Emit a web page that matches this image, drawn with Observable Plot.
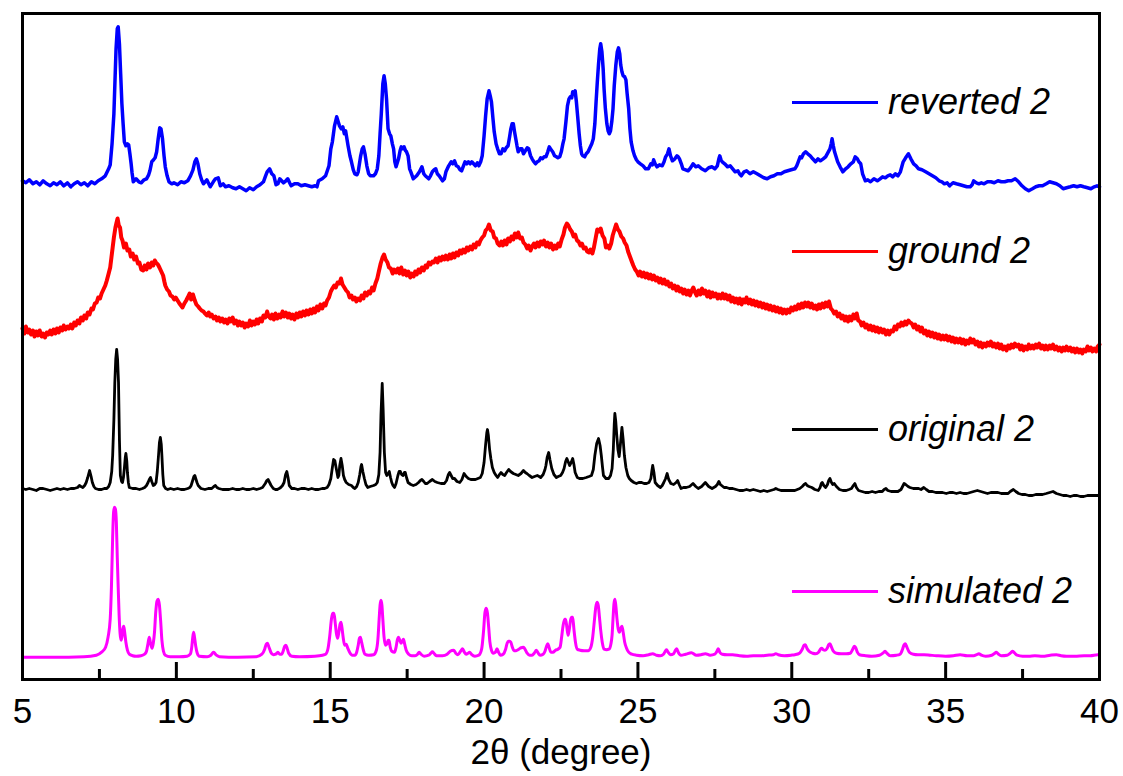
<!DOCTYPE html>
<html><head><meta charset="utf-8">
<script src="https://cdn.jsdelivr.net/npm/d3@7"></script>
<script src="https://cdn.jsdelivr.net/npm/@observablehq/plot@0.6"></script>
<style>
body{margin:0;background:#fff;}
#wrap{position:relative;width:1123px;height:776px;font-family:"Liberation Sans",Arial,sans-serif;}
.leg{position:absolute;left:792px;display:flex;align-items:center;height:40px;margin-top:-20px;}
.leg .sw{width:86px;height:3px;}
.leg span{margin-left:10px;font-style:italic;font-size:36px;color:#000;line-height:40px;white-space:nowrap;}
</style></head><body><div id="wrap"></div>
<script>
const seriesNames = ["reverted 2", "ground 2", "original 2", "simulated 2"];
const seriesColors = ["#0000ff", "#ff0000", "#000000", "#ff00ff"];
const seriesOffsets = [495.7, 344, 190, 22.3];
const seriesWidths = [3.5, 4, 2.8, 3];
const xMajorTicks = [5, 10, 15, 20, 25, 30, 35, 40];
const xMinorTicks = [7.5, 12.5, 17.5, 22.5, 27.5, 32.5, 37.5];
const xLabel = "2θ (degree)";

const reverted = [[5.00,3],[5.11,1],[5.22,4],[5.34,0],[5.45,2],[5.56,-1],[5.67,3],[5.79,0],[5.90,-2],[6.01,1],[6.12,-1],[6.23,2],[6.34,-2],[6.46,1],[6.57,-3],[6.68,0],[6.79,2],[6.90,-1],[7.01,1],[7.12,-2],[7.24,2],[7.35,0],[7.46,3],[7.57,5],[7.69,8],[7.80,15],[7.85,19],[7.91,40],[7.97,70],[8.04,135],[8.08,155],[8.11,157],[8.15,140],[8.19,110],[8.23,80],[8.27,60],[8.31,42],[8.36,38],[8.41,40],[8.45,39],[8.49,30],[8.53,20],[8.56,11],[8.60,2],[8.69,5],[8.78,2],[8.86,1],[8.95,4],[9.03,5],[9.10,9],[9.14,13],[9.20,22],[9.26,24],[9.31,26],[9.36,32],[9.41,45],[9.46,56],[9.50,55],[9.55,45],[9.60,28],[9.64,17],[9.70,8],[9.76,2],[9.85,0],[9.92,1],[10.04,-1],[10.15,2],[10.26,1],[10.37,3],[10.46,8],[10.54,14],[10.60,22],[10.65,25],[10.70,20],[10.76,10],[10.82,4],[10.88,0],[10.99,4],[11.10,-3],[11.20,2],[11.27,5],[11.36,6],[11.43,-2],[11.52,0],[11.60,-3],[11.71,-2],[11.83,-4],[11.94,-5],[12.05,-3],[12.16,-5],[12.27,-7],[12.38,-4],[12.50,-6],[12.61,-3],[12.72,-1],[12.83,2],[12.90,8],[12.95,12],[13.03,15],[13.10,10],[13.17,8],[13.24,-1],[13.30,0],[13.36,5],[13.42,3],[13.48,1],[13.56,3],[13.62,5],[13.68,1],[13.73,-2],[13.84,0],[13.95,0],[14.06,-2],[14.18,-1],[14.29,-2],[14.40,-3],[14.51,-2],[14.57,-3],[14.62,3],[14.74,5],[14.85,8],[14.96,18],[15.02,35],[15.07,42],[15.14,58],[15.21,67],[15.26,62],[15.30,58],[15.36,55],[15.41,57],[15.46,50],[15.50,53],[15.58,38],[15.64,28],[15.69,22],[15.75,14],[15.80,10],[15.87,9],[15.91,12],[15.95,20],[15.99,28],[16.04,35],[16.08,37],[16.13,30],[16.19,18],[16.25,10],[16.30,8],[16.41,8],[16.47,10],[16.53,15],[16.58,28],[16.62,50],[16.66,70],[16.71,100],[16.75,108],[16.79,100],[16.83,85],[16.88,55],[16.93,50],[16.97,48],[17.02,40],[17.06,35],[17.10,22],[17.14,17],[17.22,25],[17.27,33],[17.31,37],[17.36,35],[17.40,37],[17.45,33],[17.48,32],[17.53,28],[17.58,15],[17.62,12],[17.70,5],[17.81,8],[17.90,12],[17.98,17],[18.04,10],[18.09,8],[18.20,5],[18.26,8],[18.32,12],[18.38,14],[18.43,15],[18.48,10],[18.54,8],[18.65,3],[18.71,5],[18.76,12],[18.85,18],[18.93,22],[18.98,20],[19.04,23],[19.10,18],[19.16,17],[19.22,14],[19.27,13],[19.33,18],[19.38,22],[19.44,20],[19.49,22],[19.55,20],[19.60,22],[19.66,20],[19.72,18],[19.78,21],[19.83,18],[19.89,22],[19.94,28],[20.00,48],[20.05,68],[20.10,85],[20.16,93],[20.20,88],[20.24,82],[20.29,65],[20.33,52],[20.39,40],[20.44,35],[20.50,30],[20.55,30],[20.61,35],[20.67,33],[20.72,36],[20.78,38],[20.83,47],[20.87,55],[20.91,60],[20.95,60],[20.99,52],[21.03,45],[21.07,38],[21.11,32],[21.17,35],[21.23,35],[21.28,30],[21.34,33],[21.40,36],[21.45,35],[21.51,28],[21.56,25],[21.62,22],[21.67,20],[21.73,22],[21.79,23],[21.84,26],[21.90,25],[21.95,27],[22.01,27],[22.07,32],[22.12,37],[22.18,34],[22.23,32],[22.29,28],[22.35,27],[22.40,26],[22.46,27],[22.51,32],[22.56,40],[22.60,45],[22.66,62],[22.71,78],[22.76,85],[22.80,87],[22.85,86],[22.88,92],[22.92,90],[22.96,93],[23.00,82],[23.04,68],[23.09,50],[23.13,38],[23.17,30],[23.21,28],[23.27,27],[23.32,30],[23.38,32],[23.44,36],[23.50,40],[23.55,45],[23.60,60],[23.64,82],[23.68,102],[23.72,120],[23.76,135],[23.79,140],[23.83,132],[23.87,115],[23.90,95],[23.94,76],[23.99,60],[24.03,53],[24.07,50],[24.11,53],[24.15,62],[24.19,75],[24.23,98],[24.28,118],[24.33,132],[24.37,136],[24.41,130],[24.44,119],[24.48,112],[24.52,108],[24.57,107],[24.61,104],[24.65,90],[24.70,75],[24.74,55],[24.78,42],[24.84,33],[24.89,28],[24.95,24],[25.00,22],[25.08,20],[25.17,18],[25.25,15],[25.34,15],[25.42,20],[25.47,19],[25.51,24],[25.56,20],[25.62,17],[25.70,19],[25.79,18],[25.85,22],[25.90,27],[25.96,30],[26.01,35],[26.06,28],[26.12,23],[26.20,25],[26.27,28],[26.31,27],[26.35,25],[26.41,20],[26.46,15],[26.55,14],[26.63,13],[26.71,16],[26.79,20],[26.88,17],[26.96,18],[27.07,15],[27.19,13],[27.30,16],[27.41,17],[27.50,15],[27.58,18],[27.63,25],[27.66,28],[27.70,24],[27.74,22],[27.82,20],[27.91,17],[28.00,18],[28.08,15],[28.16,12],[28.25,13],[28.30,10],[28.36,8],[28.45,12],[28.53,13],[28.64,10],[28.75,12],[28.87,10],[28.98,8],[29.09,6],[29.20,5],[29.31,7],[29.42,8],[29.53,10],[29.65,10],[29.76,12],[29.87,13],[29.98,14],[30.10,15],[30.16,18],[30.21,22],[30.27,27],[30.32,26],[30.38,30],[30.45,32],[30.52,30],[30.60,28],[30.68,25],[30.77,22],[30.85,25],[30.93,23],[31.02,25],[31.10,27],[31.17,31],[31.24,35],[31.28,40],[31.31,45],[31.35,38],[31.39,32],[31.44,27],[31.49,22],[31.57,17],[31.66,12],[31.75,15],[31.83,17],[31.92,20],[32.00,22],[32.06,27],[32.13,25],[32.18,22],[32.24,20],[32.30,10],[32.39,3],[32.47,4],[32.56,2],[32.67,5],[32.78,3],[32.87,5],[32.95,7],[33.04,6],[33.12,8],[33.20,9],[33.28,7],[33.37,10],[33.45,8],[33.53,12],[33.62,22],[33.70,26],[33.79,30],[33.87,25],[33.96,20],[34.04,18],[34.12,15],[34.23,14],[34.35,12],[34.46,10],[34.57,8],[34.68,6],[34.79,3],[34.88,2],[34.96,0],[35.05,1],[35.13,-2],[35.24,1],[35.35,0],[35.47,-1],[35.58,-2],[35.69,-3],[35.80,-3],[35.86,-1],[35.91,3],[36.00,1],[36.08,0],[36.16,1],[36.25,0],[36.36,2],[36.47,2],[36.58,1],[36.70,3],[36.81,2],[36.92,2],[37.03,3],[37.14,3],[37.20,4],[37.26,5],[37.37,2],[37.48,-2],[37.59,-5],[37.70,-7],[37.82,-5],[37.93,-3],[38.04,-2],[38.15,-2],[38.27,0],[38.38,2],[38.49,1],[38.60,0],[38.71,-2],[38.82,-5],[38.93,-4],[39.05,-3],[39.16,-2],[39.27,-3],[39.38,-2],[39.49,-3],[39.61,-4],[39.72,-5],[39.83,-3],[39.92,-2],[40.00,-3]];

const ground = [[5.00,7],[5.06,2],[5.11,9],[5.17,3],[5.22,6],[5.28,1],[5.34,5],[5.39,-1],[5.45,4],[5.50,0],[5.56,5],[5.62,-1],[5.67,2],[5.73,-2],[5.79,3],[5.84,1],[5.90,5],[5.95,1],[6.01,6],[6.07,2],[6.12,7],[6.18,3],[6.23,8],[6.29,5],[6.34,10],[6.40,6],[6.46,9],[6.51,7],[6.57,11],[6.62,7],[6.68,13],[6.73,10],[6.79,15],[6.85,12],[6.90,18],[6.96,15],[7.01,20],[7.07,17],[7.12,23],[7.18,21],[7.24,27],[7.29,26],[7.35,32],[7.41,33],[7.46,38],[7.52,37],[7.57,42],[7.63,46],[7.69,50],[7.74,55],[7.80,62],[7.85,68],[7.89,78],[7.93,88],[7.97,98],[8.02,108],[8.05,112],[8.09,117],[8.13,110],[8.17,108],[8.21,98],[8.25,95],[8.30,88],[8.36,92],[8.41,85],[8.47,86],[8.52,79],[8.58,82],[8.63,76],[8.69,79],[8.75,72],[8.80,73],[8.86,66],[8.92,65],[8.97,70],[9.03,66],[9.08,72],[9.14,68],[9.20,73],[9.25,70],[9.30,75],[9.34,73],[9.40,71],[9.45,68],[9.51,64],[9.57,60],[9.61,54],[9.64,50],[9.70,46],[9.76,44],[9.81,40],[9.87,39],[9.93,36],[9.98,38],[10.04,35],[10.10,32],[10.15,30],[10.20,28],[10.26,32],[10.32,35],[10.37,38],[10.43,42],[10.48,36],[10.54,41],[10.60,35],[10.65,31],[10.71,29],[10.76,27],[10.82,25],[10.88,24],[10.93,22],[10.99,20],[11.05,23],[11.10,19],[11.15,21],[11.21,17],[11.27,19],[11.32,15],[11.38,18],[11.43,14],[11.49,17],[11.55,13],[11.60,16],[11.66,12],[11.72,17],[11.77,14],[11.83,18],[11.88,12],[11.94,15],[12.00,10],[12.05,14],[12.11,10],[12.16,13],[12.22,8],[12.27,12],[12.33,9],[12.39,15],[12.44,10],[12.50,14],[12.55,11],[12.61,16],[12.66,12],[12.72,17],[12.78,14],[12.83,20],[12.89,18],[12.95,24],[13.00,19],[13.06,17],[13.11,21],[13.17,16],[13.22,22],[13.28,17],[13.34,21],[13.39,18],[13.45,24],[13.50,19],[13.56,23],[13.62,18],[13.67,22],[13.73,17],[13.78,21],[13.84,16],[13.90,22],[13.95,18],[14.01,23],[14.06,19],[14.12,24],[14.18,20],[14.23,25],[14.29,21],[14.35,26],[14.40,22],[14.46,27],[14.51,23],[14.57,29],[14.62,25],[14.68,31],[14.74,27],[14.80,32],[14.85,30],[14.90,35],[14.96,38],[15.02,44],[15.07,47],[15.13,50],[15.18,48],[15.24,53],[15.30,52],[15.35,57],[15.40,51],[15.46,48],[15.52,45],[15.58,43],[15.63,38],[15.69,40],[15.74,36],[15.80,38],[15.85,34],[15.91,37],[15.97,35],[16.02,40],[16.08,37],[16.13,43],[16.19,40],[16.25,44],[16.30,42],[16.36,48],[16.41,45],[16.47,52],[16.53,57],[16.58,64],[16.64,72],[16.70,78],[16.75,81],[16.80,76],[16.86,73],[16.91,68],[16.97,67],[17.03,62],[17.08,66],[17.14,63],[17.20,67],[17.25,62],[17.31,68],[17.37,61],[17.43,65],[17.48,60],[17.54,64],[17.60,58],[17.65,62],[17.71,59],[17.76,64],[17.81,61],[17.87,66],[17.92,63],[17.98,68],[18.04,65],[18.10,70],[18.15,68],[18.20,73],[18.26,71],[18.32,74],[18.37,73],[18.43,77],[18.49,73],[18.54,78],[18.60,75],[18.65,79],[18.71,76],[18.76,80],[18.82,76],[18.88,81],[18.93,77],[18.99,82],[19.04,78],[19.10,83],[19.16,80],[19.21,85],[19.27,82],[19.32,86],[19.38,83],[19.44,88],[19.49,85],[19.55,89],[19.61,86],[19.66,91],[19.72,88],[19.77,93],[19.83,91],[19.88,95],[19.94,98],[20.00,100],[20.05,105],[20.11,107],[20.16,111],[20.22,105],[20.28,104],[20.33,98],[20.39,97],[20.44,92],[20.50,90],[20.56,94],[20.61,90],[20.67,95],[20.73,91],[20.78,97],[20.84,94],[20.89,99],[20.95,96],[21.00,102],[21.06,98],[21.11,103],[21.17,97],[21.23,98],[21.28,93],[21.34,91],[21.40,87],[21.45,90],[21.51,85],[21.56,89],[21.62,92],[21.67,88],[21.73,93],[21.79,89],[21.84,94],[21.90,91],[21.95,95],[22.01,89],[22.07,93],[22.12,88],[22.18,92],[22.24,86],[22.30,90],[22.35,87],[22.41,92],[22.46,89],[22.52,96],[22.58,101],[22.63,108],[22.69,112],[22.74,110],[22.80,106],[22.85,104],[22.91,99],[22.96,101],[23.02,95],[23.07,94],[23.13,90],[23.18,92],[23.24,87],[23.30,88],[23.35,84],[23.41,83],[23.46,86],[23.52,82],[23.57,88],[23.63,98],[23.68,106],[23.74,104],[23.79,107],[23.85,100],[23.91,97],[23.96,88],[24.02,90],[24.07,87],[24.13,92],[24.18,100],[24.24,106],[24.29,111],[24.35,106],[24.40,104],[24.46,99],[24.52,97],[24.57,93],[24.63,90],[24.68,84],[24.74,79],[24.80,74],[24.85,70],[24.91,66],[24.96,64],[25.02,60],[25.07,64],[25.13,59],[25.19,63],[25.24,58],[25.30,62],[25.35,57],[25.41,61],[25.46,56],[25.52,60],[25.58,55],[25.63,58],[25.69,53],[25.74,57],[25.80,52],[25.86,56],[25.91,51],[25.97,54],[26.02,49],[26.08,52],[26.13,47],[26.19,50],[26.25,45],[26.30,49],[26.36,44],[26.41,47],[26.47,42],[26.52,46],[26.58,41],[26.64,45],[26.69,40],[26.75,45],[26.80,48],[26.86,43],[26.91,40],[26.97,45],[27.03,41],[27.08,47],[27.14,42],[27.19,45],[27.25,39],[27.31,44],[27.36,38],[27.42,43],[27.47,39],[27.53,42],[27.59,37],[27.64,41],[27.70,37],[27.75,42],[27.81,37],[27.86,41],[27.92,36],[27.98,40],[28.03,34],[28.09,38],[28.14,33],[28.20,37],[28.26,32],[28.31,37],[28.37,31],[28.42,36],[28.48,33],[28.53,38],[28.59,32],[28.65,36],[28.70,31],[28.76,35],[28.81,30],[28.87,34],[28.92,29],[28.98,33],[29.04,28],[29.09,32],[29.15,27],[29.20,31],[29.26,26],[29.31,30],[29.37,25],[29.43,29],[29.48,24],[29.54,28],[29.59,23],[29.65,27],[29.70,22],[29.76,26],[29.82,22],[29.87,26],[29.93,23],[29.98,28],[30.04,25],[30.10,29],[30.15,26],[30.21,31],[30.26,27],[30.32,32],[30.37,28],[30.43,33],[30.49,29],[30.54,33],[30.60,28],[30.65,32],[30.71,27],[30.77,30],[30.82,26],[30.88,31],[30.93,27],[30.99,32],[31.05,28],[31.10,33],[31.16,29],[31.21,34],[31.27,27],[31.33,25],[31.38,22],[31.44,24],[31.49,19],[31.55,22],[31.61,17],[31.66,20],[31.72,15],[31.77,19],[31.83,14],[31.88,19],[31.94,15],[32.00,21],[32.05,17],[32.11,22],[32.16,15],[32.22,14],[32.27,10],[32.33,13],[32.39,8],[32.44,11],[32.50,6],[32.56,10],[32.61,5],[32.67,9],[32.72,4],[32.78,8],[32.83,3],[32.89,7],[32.95,3],[33.00,6],[33.06,1],[33.12,5],[33.17,1],[33.23,5],[33.29,4],[33.34,9],[33.40,6],[33.45,11],[33.51,9],[33.56,13],[33.62,10],[33.68,14],[33.73,11],[33.79,15],[33.84,13],[33.90,12],[33.96,8],[34.01,11],[34.07,6],[34.12,9],[34.18,4],[34.23,8],[34.29,2],[34.35,5],[34.40,0],[34.46,4],[34.51,-1],[34.57,3],[34.63,-2],[34.68,2],[34.74,-3],[34.79,1],[34.85,-4],[34.91,0],[34.96,-4],[35.02,0],[35.07,-5],[35.13,-1],[35.19,-6],[35.24,-2],[35.30,-7],[35.35,-3],[35.41,-7],[35.47,-3],[35.52,-8],[35.58,-4],[35.64,-9],[35.69,-5],[35.75,-8],[35.80,-3],[35.86,-7],[35.91,-4],[35.97,-9],[36.03,-6],[36.08,-11],[36.14,-7],[36.19,-12],[36.25,-8],[36.31,-11],[36.36,-7],[36.42,-10],[36.47,-6],[36.53,-11],[36.58,-8],[36.64,-12],[36.70,-8],[36.75,-13],[36.81,-9],[36.86,-14],[36.92,-11],[36.98,-15],[37.03,-10],[37.09,-13],[37.14,-9],[37.20,-12],[37.25,-8],[37.31,-11],[37.37,-9],[37.42,-14],[37.48,-10],[37.53,-15],[37.59,-11],[37.65,-14],[37.70,-9],[37.76,-13],[37.82,-10],[37.87,-13],[37.93,-9],[37.98,-12],[38.04,-8],[38.10,-13],[38.15,-10],[38.21,-14],[38.26,-10],[38.32,-14],[38.38,-10],[38.43,-13],[38.49,-9],[38.54,-14],[38.60,-11],[38.66,-15],[38.71,-12],[38.77,-16],[38.82,-12],[38.88,-15],[38.93,-11],[38.99,-15],[39.05,-12],[39.10,-16],[39.16,-13],[39.21,-17],[39.27,-13],[39.33,-17],[39.38,-14],[39.44,-18],[39.49,-14],[39.55,-16],[39.61,-11],[39.66,-15],[39.72,-12],[39.77,-16],[39.83,-13],[39.89,-16],[39.94,-11],[40.00,-9]];

const original = [[5.00,1],[5.11,0],[5.22,1],[5.34,0],[5.45,-1],[5.56,1],[5.67,1],[5.79,0],[5.90,-1],[6.01,0],[6.12,1],[6.23,0],[6.34,1],[6.46,0],[6.57,1],[6.68,1],[6.79,2],[6.85,4],[6.90,3],[6.96,2],[7.02,4],[7.07,7],[7.12,12],[7.18,19],[7.23,13],[7.27,7],[7.32,3],[7.37,1],[7.47,0],[7.57,0],[7.66,1],[7.74,1],[7.80,3],[7.85,7],[7.90,18],[7.93,34],[7.97,70],[8.00,107],[8.03,130],[8.06,140],[8.09,130],[8.12,107],[8.15,50],[8.18,14],[8.22,8],[8.25,7],[8.28,12],[8.31,21],[8.34,32],[8.36,36],[8.39,28],[8.41,17],[8.44,7],[8.47,2],[8.58,1],[8.69,1],[8.80,0],[8.90,1],[8.97,2],[9.03,4],[9.08,7],[9.12,10],[9.16,12],[9.20,8],[9.25,4],[9.30,5],[9.34,7],[9.38,18],[9.42,34],[9.45,47],[9.48,52],[9.51,45],[9.53,34],[9.56,15],[9.59,4],[9.65,1],[9.72,0],[9.81,1],[9.92,0],[10.04,1],[10.15,0],[10.26,0],[10.37,1],[10.44,2],[10.48,4],[10.53,9],[10.57,13],[10.60,14],[10.64,10],[10.67,7],[10.71,4],[10.80,1],[10.93,0],[11.04,1],[11.15,1],[11.22,3],[11.27,4],[11.32,2],[11.38,1],[11.50,0],[11.60,0],[11.71,0],[11.83,1],[11.94,0],[12.05,0],[12.16,1],[12.27,0],[12.38,0],[12.50,1],[12.61,0],[12.72,1],[12.80,2],[12.89,6],[12.94,9],[12.98,10],[13.03,7],[13.08,4],[13.15,1],[13.22,0],[13.28,0],[13.34,1],[13.39,2],[13.45,4],[13.50,7],[13.55,15],[13.59,18],[13.63,12],[13.67,4],[13.75,1],[13.84,1],[13.95,0],[14.06,1],[14.18,1],[14.29,0],[14.40,1],[14.51,0],[14.62,0],[14.74,1],[14.82,1],[14.90,2],[14.96,5],[15.02,11],[15.07,22],[15.11,30],[15.15,29],[15.19,22],[15.22,17],[15.25,12],[15.28,14],[15.31,24],[15.35,31],[15.39,24],[15.43,14],[15.47,10],[15.52,7],[15.60,5],[15.69,4],[15.75,2],[15.80,1],[15.86,3],[15.91,7],[15.96,15],[16.00,23],[16.02,25],[16.06,18],[16.11,11],[16.16,5],[16.22,2],[16.30,3],[16.41,4],[16.48,5],[16.53,7],[16.58,15],[16.62,37],[16.65,75],[16.69,106],[16.72,80],[16.76,37],[16.80,17],[16.84,14],[16.88,16],[16.92,18],[16.96,12],[17.00,7],[17.04,4],[17.09,2],[17.14,6],[17.20,14],[17.24,18],[17.28,18],[17.32,15],[17.37,14],[17.41,17],[17.44,17],[17.48,12],[17.53,7],[17.62,5],[17.70,4],[17.79,5],[17.87,7],[17.93,9],[17.98,10],[18.04,8],[18.09,6],[18.15,6],[18.23,8],[18.32,10],[18.40,8],[18.48,7],[18.60,6],[18.71,6],[18.78,9],[18.84,15],[18.88,17],[18.93,14],[18.98,11],[19.04,11],[19.12,8],[19.21,7],[19.28,10],[19.35,16],[19.42,13],[19.49,11],[19.57,10],[19.66,10],[19.72,10],[19.80,11],[19.88,12],[19.94,16],[20.00,27],[20.05,45],[20.09,57],[20.11,60],[20.14,54],[20.18,40],[20.22,31],[20.27,22],[20.33,17],[20.39,14],[20.44,12],[20.50,15],[20.55,17],[20.61,15],[20.67,14],[20.73,17],[20.80,20],[20.86,18],[20.95,16],[21.03,15],[21.11,14],[21.20,16],[21.28,19],[21.34,17],[21.39,16],[21.47,14],[21.56,12],[21.64,13],[21.73,14],[21.79,13],[21.84,12],[21.92,15],[21.98,20],[22.01,24],[22.05,32],[22.10,37],[22.14,30],[22.20,21],[22.27,15],[22.35,12],[22.41,13],[22.49,14],[22.55,17],[22.60,21],[22.65,28],[22.69,31],[22.73,28],[22.78,24],[22.83,27],[22.88,31],[22.92,25],[22.96,17],[23.03,12],[23.10,11],[23.21,11],[23.32,12],[23.41,13],[23.49,14],[23.55,20],[23.60,34],[23.66,46],[23.72,51],[23.77,44],[23.81,34],[23.85,22],[23.88,14],[23.96,11],[24.05,11],[24.11,14],[24.16,21],[24.20,40],[24.23,65],[24.25,76],[24.28,68],[24.31,55],[24.35,40],[24.39,33],[24.43,45],[24.48,62],[24.52,50],[24.56,34],[24.61,22],[24.67,14],[24.72,11],[24.78,9],[24.87,7],[24.95,6],[25.03,7],[25.12,7],[25.20,6],[25.28,6],[25.36,7],[25.42,11],[25.45,18],[25.48,24],[25.52,17],[25.56,7],[25.64,4],[25.73,2],[25.79,4],[25.84,7],[25.90,11],[25.95,16],[26.00,10],[26.07,6],[26.16,5],[26.24,7],[26.29,9],[26.34,5],[26.40,1],[26.48,2],[26.57,2],[26.68,3],[26.79,6],[26.88,3],[26.96,1],[27.07,3],[27.19,7],[27.30,3],[27.41,1],[27.52,3],[27.58,5],[27.63,8],[27.68,5],[27.80,2],[27.88,2],[27.97,1],[28.08,1],[28.19,0],[28.30,-1],[28.42,-1],[28.53,0],[28.64,-1],[28.75,0],[28.87,-1],[28.98,-2],[29.09,-1],[29.20,-2],[29.31,-1],[29.42,0],[29.48,1],[29.55,0],[29.65,-1],[29.76,-1],[29.87,-1],[29.98,-1],[30.10,-1],[30.18,0],[30.26,1],[30.34,3],[30.40,5],[30.45,6],[30.50,4],[30.56,3],[30.65,2],[30.75,0],[30.86,-1],[30.92,2],[30.96,6],[30.99,7],[31.04,4],[31.10,2],[31.16,5],[31.20,9],[31.24,11],[31.29,7],[31.33,5],[31.38,6],[31.45,3],[31.55,0],[31.66,-1],[31.77,-1],[31.86,0],[31.94,1],[32.00,4],[32.05,6],[32.10,2],[32.17,-1],[32.28,-2],[32.39,-3],[32.50,-3],[32.61,-2],[32.72,-3],[32.83,-2],[32.94,-2],[33.00,0],[33.06,1],[33.12,-1],[33.23,-2],[33.34,-2],[33.45,-2],[33.55,0],[33.60,3],[33.65,6],[33.70,5],[33.78,3],[33.84,2],[33.95,1],[34.05,1],[34.12,1],[34.20,0],[34.29,2],[34.37,0],[34.46,-2],[34.57,-2],[34.68,-3],[34.79,-3],[34.90,-3],[35.02,-4],[35.13,-3],[35.24,-3],[35.35,-4],[35.47,-3],[35.58,-4],[35.69,-4],[35.80,-3],[35.91,-2],[36.03,-1],[36.14,-2],[36.25,-3],[36.36,-4],[36.47,-3],[36.58,-3],[36.70,-3],[36.81,-4],[36.92,-4],[37.03,-4],[37.10,-2],[37.20,0],[37.28,-2],[37.37,-4],[37.48,-5],[37.59,-5],[37.70,-6],[37.82,-6],[37.93,-5],[38.04,-5],[38.15,-5],[38.27,-4],[38.38,-3],[38.49,-2],[38.60,-4],[38.71,-5],[38.82,-6],[38.93,-6],[39.05,-7],[39.16,-6],[39.27,-6],[39.38,-7],[39.49,-7],[39.61,-6],[39.72,-6],[39.83,-6],[39.94,-6],[40.00,-6]];

const simulated = [[5.00,0],[6.00,0],[7.00,0.5],[7.40,2],[7.57,5],[7.70,10],[7.78,20],[7.85,38],[7.89,70],[7.93,120],[7.96,145],[7.99,150],[8.02,148],[8.05,135],[8.08,100],[8.11,70],[8.14,42],[8.17,24],[8.20,17],[8.23,20],[8.26,28],[8.29,31],[8.32,25],[8.36,15],[8.41,7],[8.47,3],[8.58,1.5],[8.69,1],[8.85,1.5],[8.97,3],[9.03,6],[9.08,14],[9.12,20],[9.16,14],[9.21,9],[9.25,14],[9.29,25],[9.33,45],[9.37,56],[9.41,58],[9.45,52],[9.49,36],[9.53,17],[9.58,6],[9.64,2],[9.80,0.5],[10.10,0.5],[10.35,1],[10.45,3],[10.50,10],[10.53,19],[10.56,25],[10.59,20],[10.63,11],[10.68,4],[10.75,1],[11.00,0.5],[11.12,2],[11.21,5],[11.30,2],[11.40,0.5],[12.00,0],[12.60,0.5],[12.78,3],[12.87,8],[12.92,13],[12.96,14],[13.01,10],[13.07,5],[13.15,2.5],[13.23,3],[13.30,5],[13.36,3],[13.42,3],[13.48,7],[13.52,11],[13.56,12],[13.60,9],[13.65,4],[13.75,1],[14.00,0.5],[14.50,1],[14.75,2],[14.85,3],[14.93,9],[14.98,20],[15.04,38],[15.08,44],[15.12,44],[15.16,35],[15.20,24],[15.24,19],[15.28,25],[15.32,33],[15.35,35],[15.38,30],[15.42,20],[15.47,12],[15.52,13],[15.57,9],[15.63,5],[15.72,2],[15.80,2],[15.86,5],[15.91,12],[15.95,19],[15.98,20],[16.02,15],[16.07,8],[16.13,3],[16.25,2],[16.41,2.5],[16.50,7],[16.55,18],[16.59,38],[16.62,52],[16.65,57],[16.68,52],[16.71,38],[16.75,20],[16.79,12],[16.84,13],[16.88,17],[16.91,17],[16.95,10],[17.00,6],[17.09,5],[17.14,10],[17.18,17],[17.22,20],[17.26,17],[17.30,14],[17.34,16],[17.38,18],[17.42,13],[17.47,7],[17.55,3],[17.65,1.5],[17.76,1.5],[17.84,3],[17.89,5],[17.95,3],[18.05,1],[18.20,2],[18.27,4],[18.32,5.5],[18.37,4],[18.45,1.5],[18.65,1.5],[18.80,3],[18.90,6],[19.01,7],[19.08,4],[19.15,2.5],[19.24,6],[19.30,8.5],[19.36,5],[19.42,3],[19.48,4],[19.53,5],[19.60,2.5],[19.70,1],[19.83,2],[19.92,8],[19.98,25],[20.03,45],[20.07,49],[20.11,44],[20.15,30],[20.19,15],[20.24,7],[20.30,4],[20.37,5],[20.42,8.5],[20.47,5],[20.53,2],[20.62,3],[20.70,8],[20.75,14],[20.79,16],[20.83,16],[20.87,15],[20.92,10],[20.97,6.5],[21.04,6.5],[21.11,7.5],[21.17,9],[21.22,9.5],[21.28,10],[21.33,8],[21.40,4],[21.48,2],[21.56,2],[21.63,4],[21.70,7],[21.76,4],[21.82,2],[21.92,3],[21.98,6],[22.03,11],[22.07,13.5],[22.11,10],[22.17,5],[22.24,5],[22.32,7],[22.40,8],[22.47,10],[22.52,20],[22.57,32],[22.62,38],[22.65,38],[22.69,30],[22.73,22],[22.77,28],[22.81,37],[22.85,40],[22.88,40],[22.92,28],[22.97,15],[23.03,8],[23.12,7],[23.25,6.5],[23.38,6.5],[23.47,10],[23.53,20],[23.58,35],[23.63,50],[23.67,55],[23.71,52],[23.75,40],[23.79,27],[23.84,15],[23.90,8],[23.98,7.5],[24.06,8],[24.12,13],[24.16,22],[24.19,38],[24.22,53],[24.25,58],[24.28,52],[24.32,38],[24.36,28],[24.40,25],[24.44,29],[24.48,31],[24.52,25],[24.57,15],[24.63,9],[24.70,5],[24.80,3],[24.95,2],[25.17,1.5],[25.35,2.5],[25.48,3.5],[25.60,2],[25.73,1.5],[25.83,3],[25.90,6.5],[25.93,7.5],[25.98,5],[26.06,2.5],[26.16,3.5],[26.22,7],[26.26,8.5],[26.31,5],[26.40,2],[26.55,3],[26.74,4.5],[26.90,2],[27.05,2.5],[27.19,3.5],[27.35,2],[27.50,3],[27.57,6],[27.61,8.5],[27.66,5],[27.74,3],[27.90,2.5],[28.08,2.5],[28.30,1.5],[28.53,1],[28.75,1.5],[28.98,1.5],[29.20,2],[29.40,2.5],[29.48,3.5],[29.56,2.5],[29.76,1.5],[29.98,2],[30.10,2.5],[30.25,4],[30.34,8],[30.40,12],[30.44,12.5],[30.49,9],[30.56,6],[30.68,4],[30.78,3.5],[30.87,5],[30.93,8],[30.97,9],[31.02,7.5],[31.08,7],[31.15,9],[31.20,12.5],[31.24,13.5],[31.29,10],[31.35,6],[31.45,4],[31.60,3.5],[31.77,3.5],[31.90,4],[31.98,8],[32.03,11],[32.07,10],[32.13,5],[32.20,2.5],[32.40,1.5],[32.60,1],[32.85,2],[32.96,4],[33.03,6],[33.09,4],[33.20,1.5],[33.40,2],[33.52,3],[33.60,8],[33.65,12.5],[33.69,13.5],[33.74,10],[33.82,5],[33.95,3],[34.10,2.5],[34.30,2.5],[34.50,2],[34.70,1.5],[35.00,1],[35.25,1.5],[35.47,2.5],[35.70,1.5],[35.91,1.5],[36.01,2.5],[36.08,3.5],[36.16,2],[36.30,1],[36.50,2],[36.60,4],[36.64,5],[36.70,3.5],[36.81,1.5],[37.00,2],[37.10,4],[37.17,6],[37.23,4.5],[37.32,2],[37.50,1],[37.70,1],[37.90,1.5],[38.15,1],[38.40,2],[38.60,2.5],[38.75,1.5],[38.93,1],[39.20,1],[39.50,1.5],[39.70,1.5],[39.94,2.5],[40.00,2.5]];

const seriesData = [reverted, ground, original, simulated];
const legendTops = [102, 251, 429, 591];
const yDomain = [0, 666];
const tickLengths = {major: 17, minor: 10};

const font = '"Liberation Sans", Arial, Helvetica, sans-serif';

const lineMarks = seriesData.map((arr, i) =>
  Plot.line(arr.map(([x, v]) => ({x, y: v + seriesOffsets[i]})), {
    x: "x", y: "y", stroke: seriesColors[i], strokeWidth: seriesWidths[i],
    strokeLinejoin: "round", strokeLinecap: "round",
    curve: i === 3 ? "monotone-x" : "linear"
  })
);

const chart = Plot.plot({
  width: 1123, height: 776,
  marginLeft: 22, marginRight: 24, marginTop: 13, marginBottom: 97,
  x: {domain: [5, 40]},
  y: {domain: yDomain, axis: null},
  style: {fontFamily: font, fontSize: "35px", color: "#000", background: "#fff", overflow: "visible"},
  marks: [
    ...lineMarks,
    Plot.ruleX(xMajorTicks, {x: d => d, y1: yDomain[0], y2: yDomain[0] + tickLengths.major, stroke: "#000", strokeWidth: 3}),
    Plot.ruleX(xMinorTicks, {x: d => d, y1: yDomain[0], y2: yDomain[0] + tickLengths.minor, stroke: "#000", strokeWidth: 3}),
    Plot.frame({stroke: "#000", strokeWidth: 3}),
    Plot.axisX(xMajorTicks, {tickSize: 0, tickPadding: 19, fontSize: 35, label: xLabel, labelAnchor: "center", labelArrow: "none", labelOffset: 84})
  ]
});

const wrap = document.getElementById("wrap");
wrap.appendChild(chart);
seriesNames.forEach((name, i) => {
  const d = document.createElement("div");
  d.className = "leg";
  d.style.top = legendTops[i] + "px";
  const sw = document.createElement("div");
  sw.className = "sw";
  sw.style.background = seriesColors[i];
  const t = document.createElement("span");
  t.textContent = name;
  d.appendChild(sw); d.appendChild(t);
  wrap.appendChild(d);
});
</script></body></html>
